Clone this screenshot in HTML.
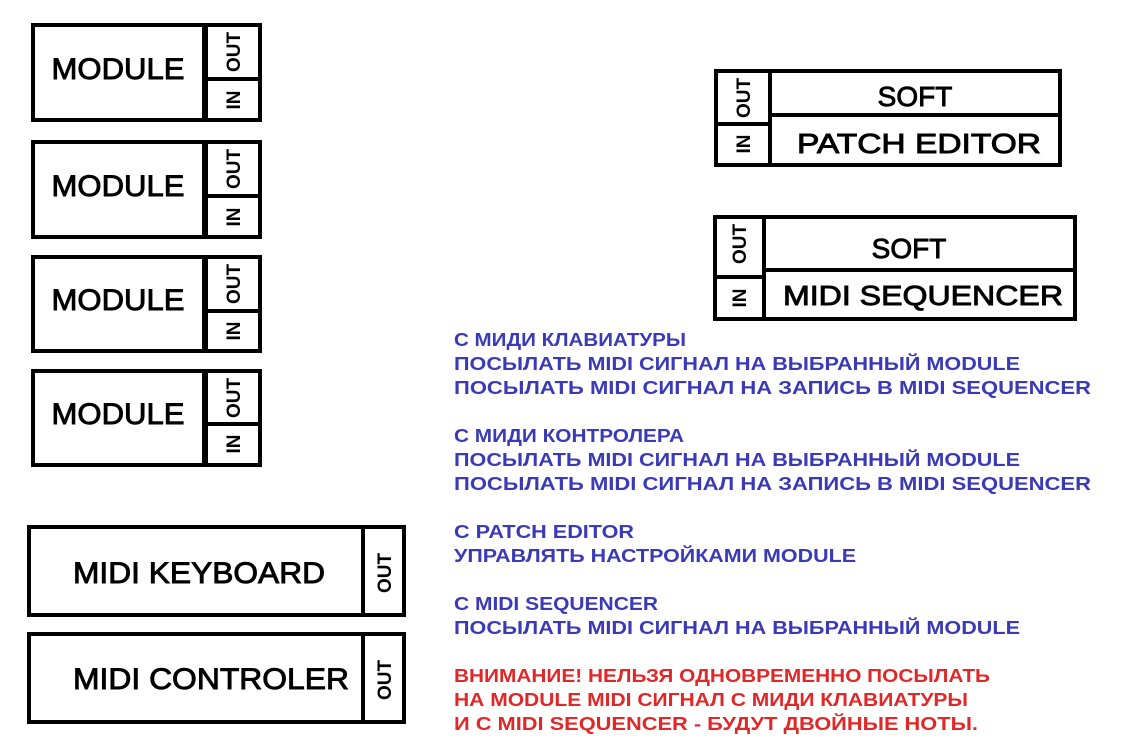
<!DOCTYPE html>
<html><head><meta charset="utf-8"><style>body{margin:0;background:#fff}svg{display:block}</style></head>
<body>
<svg width="1136" height="741" xmlns="http://www.w3.org/2000/svg" font-family="'Liberation Sans', Arial, sans-serif">
<rect width="1136" height="741" fill="#fff"/>
<g fill="none" stroke="#000" stroke-width="4">
<rect x="33" y="25" width="227" height="95"/><rect x="33" y="142" width="227" height="95"/>
<rect x="33" y="257" width="227" height="94"/><rect x="33" y="371" width="227" height="94"/>
<rect x="716" y="71" width="344" height="94"/><rect x="715" y="217" width="360" height="102"/>
<rect x="29" y="527" width="375" height="88"/><rect x="29" y="634" width="375" height="88"/>
</g>
<g stroke="#000" stroke-width="6">
<line x1="205" y1="25" x2="205" y2="120"/><line x1="205" y1="142" x2="205" y2="237"/>
<line x1="205" y1="257" x2="205" y2="351"/><line x1="205" y1="371" x2="205" y2="465"/>
</g>
<g stroke="#000" stroke-width="4">
<line x1="205" y1="79" x2="260" y2="79"/><line x1="205" y1="196" x2="260" y2="196"/>
<line x1="205" y1="311" x2="260" y2="311"/><line x1="205" y1="424" x2="260" y2="424"/>
<line x1="770" y1="71" x2="770" y2="165"/><line x1="770" y1="115" x2="1060" y2="115"/><line x1="716" y1="124" x2="770" y2="124"/>
<line x1="764" y1="217" x2="764" y2="319"/><line x1="764" y1="270" x2="1075" y2="270"/><line x1="715" y1="277" x2="764" y2="277"/>
<line x1="363" y1="527" x2="363" y2="615"/><line x1="363" y1="634" x2="363" y2="722"/>
</g>
<g font-size="30" text-anchor="middle" stroke="#000" stroke-width="0.9">
<text x="118" y="79" textLength="133" lengthAdjust="spacingAndGlyphs">MODULE</text><text x="118" y="196" textLength="133" lengthAdjust="spacingAndGlyphs">MODULE</text>
<text x="118" y="310" textLength="133" lengthAdjust="spacingAndGlyphs">MODULE</text><text x="118" y="424" textLength="133" lengthAdjust="spacingAndGlyphs">MODULE</text>
<text x="915" y="106" font-size="28">SOFT</text><text x="919" y="153" font-size="28" textLength="244" lengthAdjust="spacingAndGlyphs">PATCH  EDITOR</text>
<text x="909" y="258" font-size="28">SOFT</text><text x="923" y="305" font-size="28" textLength="280" lengthAdjust="spacingAndGlyphs">MIDI  SEQUENCER</text>
<text x="199" y="583" textLength="252" lengthAdjust="spacingAndGlyphs">MIDI KEYBOARD</text><text x="211" y="689" textLength="276" lengthAdjust="spacingAndGlyphs">MIDI  CONTROLER</text>
</g>
<g font-size="19" font-weight="bold" text-anchor="middle">
<text transform="translate(240,52) rotate(-90)">OUT</text><text transform="translate(240,100) rotate(-90)">IN</text>
<text transform="translate(240,169) rotate(-90)">OUT</text><text transform="translate(240,217) rotate(-90)">IN</text>
<text transform="translate(240,284) rotate(-90)">OUT</text><text transform="translate(240,331) rotate(-90)">IN</text>
<text transform="translate(240,398) rotate(-90)">OUT</text><text transform="translate(240,444) rotate(-90)">IN</text>
<text transform="translate(750,98) rotate(-90)">OUT</text><text transform="translate(750,144) rotate(-90)">IN</text>
<text transform="translate(746,244) rotate(-90)">OUT</text><text transform="translate(746,298) rotate(-90)">IN</text>
<text transform="translate(391,573) rotate(-90)">OUT</text><text transform="translate(391,680) rotate(-90)">OUT</text>
</g>
<g font-size="18" font-weight="bold" fill="#3a3ab8">
<text x="454" y="346" textLength="232" lengthAdjust="spacingAndGlyphs">С МИДИ КЛАВИАТУРЫ</text>
<text x="454" y="370" textLength="566" lengthAdjust="spacingAndGlyphs">ПОСЫЛАТЬ  MIDI  СИГНАЛ  НА ВЫБРАННЫЙ  MODULE</text>
<text x="454" y="394" textLength="637" lengthAdjust="spacingAndGlyphs">ПОСЫЛАТЬ  MIDI  СИГНАЛ  НА  ЗАПИСЬ  В  MIDI  SEQUENCER</text>
<text x="454" y="442" textLength="230" lengthAdjust="spacingAndGlyphs">С МИДИ КОНТРОЛЕРА</text>
<text x="454" y="466" textLength="566" lengthAdjust="spacingAndGlyphs">ПОСЫЛАТЬ  MIDI  СИГНАЛ  НА ВЫБРАННЫЙ  MODULE</text>
<text x="454" y="490" textLength="637" lengthAdjust="spacingAndGlyphs">ПОСЫЛАТЬ  MIDI  СИГНАЛ  НА  ЗАПИСЬ  В  MIDI  SEQUENCER</text>
<text x="454" y="538" textLength="180" lengthAdjust="spacingAndGlyphs">С PATCH  EDITOR</text>
<text x="454" y="562" textLength="402" lengthAdjust="spacingAndGlyphs">УПРАВЛЯТЬ  НАСТРОЙКАМИ  MODULE</text>
<text x="454" y="610" textLength="204" lengthAdjust="spacingAndGlyphs">С MIDI  SEQUENCER</text>
<text x="454" y="634" textLength="566" lengthAdjust="spacingAndGlyphs">ПОСЫЛАТЬ  MIDI  СИГНАЛ  НА ВЫБРАННЫЙ  MODULE</text>
</g>
<g font-size="18" font-weight="bold" fill="#e02828">
<text x="454" y="682" textLength="536" lengthAdjust="spacingAndGlyphs">ВНИМАНИЕ!  НЕЛЬЗЯ ОДНОВРЕМЕННО ПОСЫЛАТЬ</text>
<text x="454" y="706" textLength="514" lengthAdjust="spacingAndGlyphs">НА MODULE  MIDI  СИГНАЛ С МИДИ КЛАВИАТУРЫ</text>
<text x="454" y="730" textLength="524" lengthAdjust="spacingAndGlyphs">И С MIDI SEQUENCER - БУДУТ ДВОЙНЫЕ НОТЫ.</text>
</g>
</svg>
</body></html>
